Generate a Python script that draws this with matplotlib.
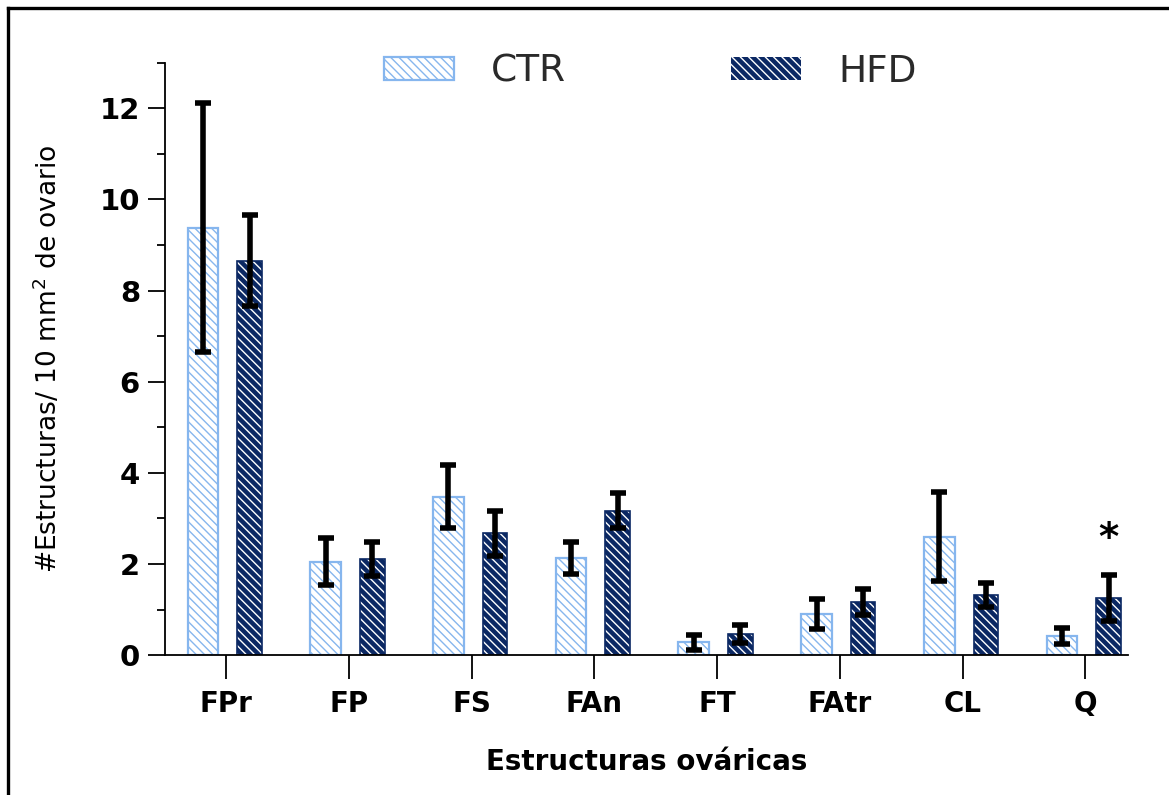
import matplotlib.pyplot as plt
from matplotlib.patches import Patch
from matplotlib.lines import Line2D
import numpy as np

categories = ['FPr', 'FP', 'FS', 'FAn', 'FT', 'FAtr', 'CL', 'Q']
ctr_mean = [9.38, 2.05, 3.48, 2.14, 0.28, 0.90, 2.60, 0.42]
ctr_err = [2.73, 0.52, 0.70, 0.35, 0.17, 0.32, 0.98, 0.17]
hfd_mean = [8.66, 2.11, 2.67, 3.17, 0.46, 1.17, 1.32, 1.25]
hfd_err = [1.00, 0.38, 0.50, 0.38, 0.20, 0.28, 0.27, 0.50]
star_value = 2.12  # "*" above HFD in Q

light_blue = '#86b6ee'
navy = '#0b2863'
hatch = '\\\\\\\\'

plt.rcParams['hatch.linewidth'] = 1.0

fig = plt.figure(figsize=(11.69, 7.95), dpi=100)
ax = fig.add_axes([0.1411, 0.176, 0.824, 0.745])

x = np.arange(len(categories))
off = 0.19

# CTR: white fill, light blue hatch and edge
ax.bar(x - off, ctr_mean, width=0.25, color='white', edgecolor=light_blue,
       hatch=hatch, linewidth=1.6, zorder=2)
# HFD: navy fill with white hatch, then navy outline
ax.bar(x + off, hfd_mean, width=0.2, color=navy, edgecolor='white',
       hatch=hatch, linewidth=0, zorder=2)
ax.bar(x + off, hfd_mean, width=0.2, fill=False, edgecolor=navy,
       linewidth=1.2, zorder=2)

ax.errorbar(x - off, ctr_mean, yerr=ctr_err, fmt='none', ecolor='black',
            elinewidth=4, capsize=5.6, capthick=4, zorder=3)
ax.errorbar(x + off, hfd_mean, yerr=hfd_err, fmt='none', ecolor='black',
            elinewidth=4, capsize=5.6, capthick=4, zorder=3)

ax.text(x[-1] + off, star_value, '*', ha='center', va='bottom',
        fontsize=28, fontweight='bold')

ax.set_xlim(-0.5, 7.35)
ax.set_ylim(0, 13)
ax.set_yticks([0, 2, 4, 6, 8, 10, 12])
ax.set_yticks([1, 3, 5, 7, 9, 11, 13], minor=True)
ax.set_xticks(x)
ax.set_xticklabels(categories, fontsize=20, fontweight='bold')
for lab in ax.get_yticklabels():
    lab.set_fontsize(21)
    lab.set_fontweight('bold')

ax.spines['top'].set_visible(False)
ax.spines['right'].set_visible(False)
ax.spines['left'].set_linewidth(1.3)
ax.spines['bottom'].set_linewidth(1.3)
ax.tick_params(axis='y', which='major', length=12, width=1.3, pad=6)
ax.tick_params(axis='y', which='minor', length=6, width=1.3)
ax.tick_params(axis='x', which='major', length=17, width=1.3, pad=8)

ax.set_xlabel('Estructuras ováricas', fontsize=20, fontweight='bold', labelpad=22)
ax.set_ylabel('#Estructuras/ 10 mm$^2$ de ovario', fontsize=19, labelpad=26)

handles = [
    Patch(facecolor='white', edgecolor=light_blue, hatch=hatch, linewidth=1.6),
    Patch(facecolor=navy, edgecolor='white', hatch=hatch, linewidth=0),
]
leg = ax.legend(handles, ['CTR', 'HFD'], loc='center', bbox_to_anchor=(0.504, 0.985),
                ncol=2, frameon=False, fontsize=27, handlelength=1.85,
                handleheight=0.55, handletextpad=1.0, columnspacing=4.4)
for t in leg.get_texts():
    t.set_color('#2a2a2a')

# border of the original figure (top and left visible)
fig.add_artist(Line2D([8 / 1169, 1], [1 - 8 / 795, 1 - 8 / 795], color='black',
                      linewidth=2.4, transform=fig.transFigure))
fig.add_artist(Line2D([8 / 1169, 8 / 1169], [0, 1 - 8 / 795], color='black',
                      linewidth=2.4, transform=fig.transFigure))

fig.savefig('out.png', dpi=100)
